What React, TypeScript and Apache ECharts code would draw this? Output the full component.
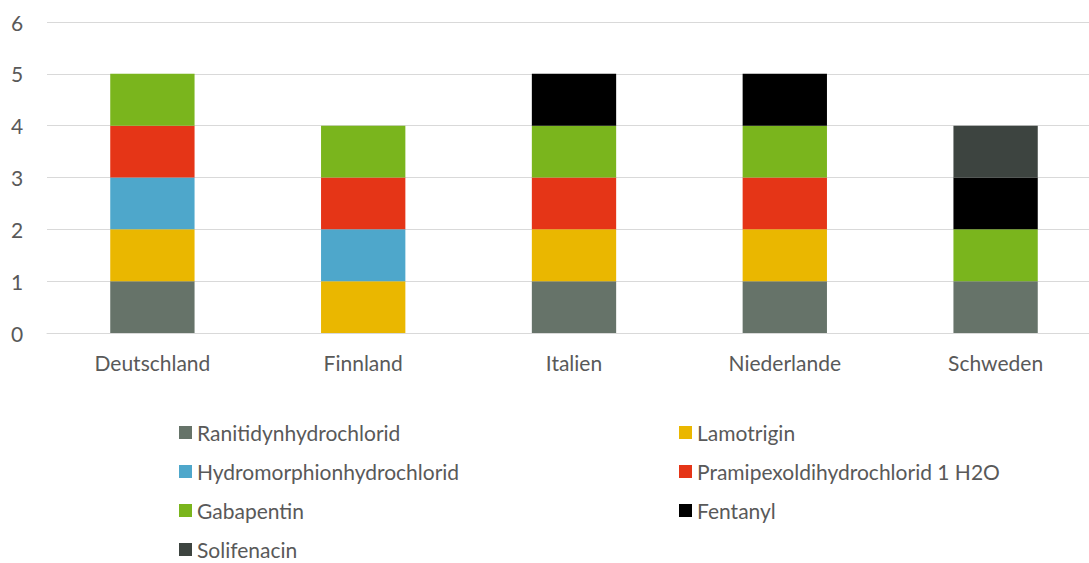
import React, { useEffect, useRef } from "react";
import * as echarts from "echarts";

const categories = ["Deutschland", "Finnland", "Italien", "Niederlande", "Schweden"];
const seriesNames = [
  "Ranitidynhydrochlorid",
  "Lamotrigin",
  "Hydromorphionhydrochlorid",
  "Pramipexoldihydrochlorid 1 H2O",
  "Gabapentin",
  "Fentanyl",
  "Solifenacin",
];
const ranitidyn = [1, null, 1, 1, 1];
const lamotrigin = [1, 1, 1, 1, null];
const hydromorphion = [1, 1, null, null, null];
const pramipexol = [1, 1, 1, 1, null];
const gabapentin = [1, 1, 1, 1, 1];
const fentanyl = [null, null, 1, 1, 1];
const solifenacin = [null, null, null, null, 1];
const seriesValues = [ranitidyn, lamotrigin, hydromorphion, pramipexol, gabapentin, fentanyl, solifenacin];
const colors = ["#667369", "#EAB700", "#4EA7CB", "#E53517", "#7AB51D", "#000000", "#3D4440"];
const yTicks = [0, 1, 2, 3, 4, 5, 6];

const FONT = "Lato, 'Open Sans', sans-serif";
const FS = 21;

export default function App() {
  const ref = useRef<HTMLDivElement>(null);
  useEffect(() => {
    if (!ref.current) return;
    const chart = echarts.init(ref.current, undefined, { renderer: "svg" });
    const legendText = { color: "#595959", fontSize: FS, fontFamily: FONT, lineHeight: 20 };
    const legendBase = {
      orient: "vertical",
      top: 417,
      height: 142,
      itemWidth: 13,
      itemHeight: 13,
      itemGap: 18,
      icon: "rect",
      textStyle: legendText,
    };
    chart.setOption({
      animation: false,
      grid: {
        left: 47,
        width: 1054,
        top: 22,
        height: 311,
        containLabel: false,
        outerBoundsMode: "none",
      },
      xAxis: {
        type: "category",
        data: categories,
        axisLine: { show: true, lineStyle: { color: "#D9D9D9", width: 1 } },
        axisTick: { show: false },
        axisLabel: { color: "#595959", fontSize: FS, fontFamily: FONT, margin: 19 },
      },
      yAxis: {
        type: "value",
        min: yTicks[0],
        max: yTicks[yTicks.length - 1],
        interval: 1,
        axisLine: { show: false },
        axisTick: { show: false },
        splitLine: { lineStyle: { color: "#D9D9D9", width: 1 } },
        axisLabel: { color: "#595959", fontSize: FS, fontFamily: FONT, margin: 30, align: "center" },
      },
      legend: [
        { ...legendBase, left: 174, data: [seriesNames[0], seriesNames[2], seriesNames[4], seriesNames[6]] },
        { ...legendBase, left: 674, data: [seriesNames[1], seriesNames[3], seriesNames[5]] },
      ],
      series: seriesNames.map((name, i) => ({
        name,
        type: "bar",
        stack: "total",
        barWidth: "40%",
        data: seriesValues[i],
        itemStyle: { color: colors[i] },
      })),
    });
    return () => chart.dispose();
  }, []);
  return (
    <div
      ref={ref}
      style={{ position: "fixed", left: 0, top: 0, width: 1089, height: 563, overflow: "hidden", background: "#fff" }}
    />
  );
}
